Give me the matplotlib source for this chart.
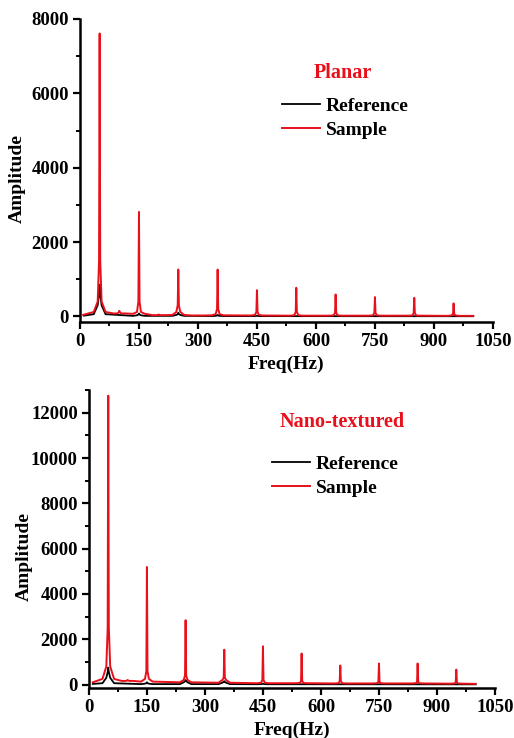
import matplotlib
matplotlib.use("Agg")
import matplotlib.pyplot as plt
from matplotlib.ticker import MultipleLocator

plt.rcParams['font.family'] = ['Liberation Serif', 'DejaVu Serif']
plt.rcParams['font.weight'] = 'bold'
plt.rcParams['axes.labelweight'] = 'bold'

# --- Planar ---
planar_sample_freq = [50, 100, 150, 200, 250, 300, 350, 450, 550, 650, 750, 850, 950]
planar_sample_peak = [7610, 150, 2810, 50, 1260, 30, 1260, 706, 770, 590, 520, 500, 350]
planar_sample_skirt = [1500, 110, 400, 40, 300, 25, 200, 120, 120, 100, 90, 90, 70]
planar_sample_shoulder = [400, 80, 120, 35, 120, 25, 60, 40, 35, 30, 30, 25, 25]
planar_sample_base = [120, 80, 70, 35, 40, 25, 30, 25, 20, 20, 20, 20, 15]
planar_sample_ends = [(8, 40), (1000, 15)]

planar_ref_freq = [50, 150, 250, 350, 450]
planar_ref_peak = [850, 80, 100, 40, 20]
planar_ref_skirt = [600, 50, 60, 25, 15]
planar_ref_shoulder = [300, 30, 40, 15, 10]
planar_ref_base = [60, 15, 15, 10, 8]
planar_ref_ends = [(10, 20), (1000, 5)]

# --- Nano-textured ---
nano_sample_freq = [50, 100, 150, 250, 350, 450, 550, 650, 750, 850, 950]
nano_sample_peak = [12750, 200, 5190, 2840, 1540, 1690, 1370, 840, 930, 930, 660]
nano_sample_skirt = [2500, 180, 600, 400, 300, 200, 150, 150, 120, 120, 100]
nano_sample_shoulder = [800, 160, 250, 200, 200, 80, 70, 60, 60, 60, 50]
nano_sample_base = [250, 160, 130, 100, 80, 60, 60, 50, 50, 50, 40]
nano_sample_ends = [(10, 100), (1000, 30)]

nano_ref_freq = [50, 150, 250, 350, 450]
nano_ref_peak = [750, 100, 200, 150, 40]
nano_ref_skirt = [550, 60, 150, 120, 30]
nano_ref_shoulder = [300, 40, 100, 80, 20]
nano_ref_base = [60, 20, 20, 20, 15]
nano_ref_ends = [(10, 30), (1000, 10)]


def spectrum(freq, peak, skirt, shoulder, base, ends):
    xs = [ends[0][0]]
    ys = [ends[0][1]]
    for f, p, sk, sh, b in zip(freq, peak, skirt, shoulder, base):
        xs += [f - 15, f - 5, f - 1.5, f, f + 1.5, f + 5, f + 15]
        ys += [b, sh, sk, p, sk, sh, b]
    xs.append(ends[1][0])
    ys.append(ends[1][1])
    return xs, ys


def style_axes(ax, ymax, ymajor, ylab_xy):
    ax.set_xlim(0, 1050)
    ax.set_ylim(-150, ymax)
    ax.xaxis.set_major_locator(MultipleLocator(150))
    ax.xaxis.set_minor_locator(MultipleLocator(75))
    ax.yaxis.set_major_locator(MultipleLocator(ymajor))
    ax.yaxis.set_minor_locator(MultipleLocator(ymajor / 2))
    ax.spines['top'].set_visible(False)
    ax.spines['right'].set_visible(False)
    for s in ['left', 'bottom']:
        ax.spines[s].set_linewidth(1.8)
    ax.tick_params(which='major', direction='out', length=5, width=1.6, labelsize=13.5, pad=3)
    ax.tick_params(which='minor', direction='out', length=3, width=1.4)
    ax.set_xlabel('Freq(Hz)', fontsize=14, labelpad=4)
    ax.set_ylabel('Amplitude', fontsize=14)
    ax.yaxis.set_label_coords(*ylab_xy)


fig = plt.figure(figsize=(5.14, 7.38), dpi=100)
ax1 = fig.add_axes([0.1556, 0.5637, 0.8034, 0.4106])
ax2 = fig.add_axes([0.173, 0.0678, 0.790, 0.4037])

panels = [
    (ax1, 'Planar', 8000, 2000,
     (planar_ref_freq, planar_ref_peak, planar_ref_skirt, planar_ref_shoulder, planar_ref_base, planar_ref_ends),
     (planar_sample_freq, planar_sample_peak, planar_sample_skirt, planar_sample_shoulder, planar_sample_base, planar_sample_ends),
     (0.637, 0.822), (0.489, 0.742), (-0.131, 0.474)),
    (ax2, 'Nano-textured', 13000, 2000,
     (nano_ref_freq, nano_ref_peak, nano_ref_skirt, nano_ref_shoulder, nano_ref_base, nano_ref_ends),
     (nano_sample_freq, nano_sample_peak, nano_sample_skirt, nano_sample_shoulder, nano_sample_base, nano_sample_ends),
     (0.623, 0.893), (0.451, 0.780), (-0.138, 0.441)),
]

for ax, title, ymax, ymajor, ref, sample, title_pos, leg_pos, ylab_xy in panels:
    rx, ry = spectrum(*ref)
    sx, sy = spectrum(*sample)
    ax.plot(rx, ry, color='black', lw=1.3, label='Reference')
    ax.plot(sx, sy, color='#e8101a', lw=1.4, label='Sample')
    style_axes(ax, ymax, ymajor, ylab_xy)
    ax.text(title_pos[0], title_pos[1], title, transform=ax.transAxes,
            ha='center', va='center', color='#e8101a', fontsize=14.5, fontweight='bold')
    ax.legend(loc='upper left', bbox_to_anchor=leg_pos, frameon=False,
              fontsize=14, borderpad=0, borderaxespad=0, handlelength=1.95,
              handletextpad=0.3, labelspacing=0.33)

ax2.set_yticks(range(0, 13000, 2000))
ax2.yaxis.set_minor_locator(MultipleLocator(1000))

fig.savefig('out.png', dpi=100)
